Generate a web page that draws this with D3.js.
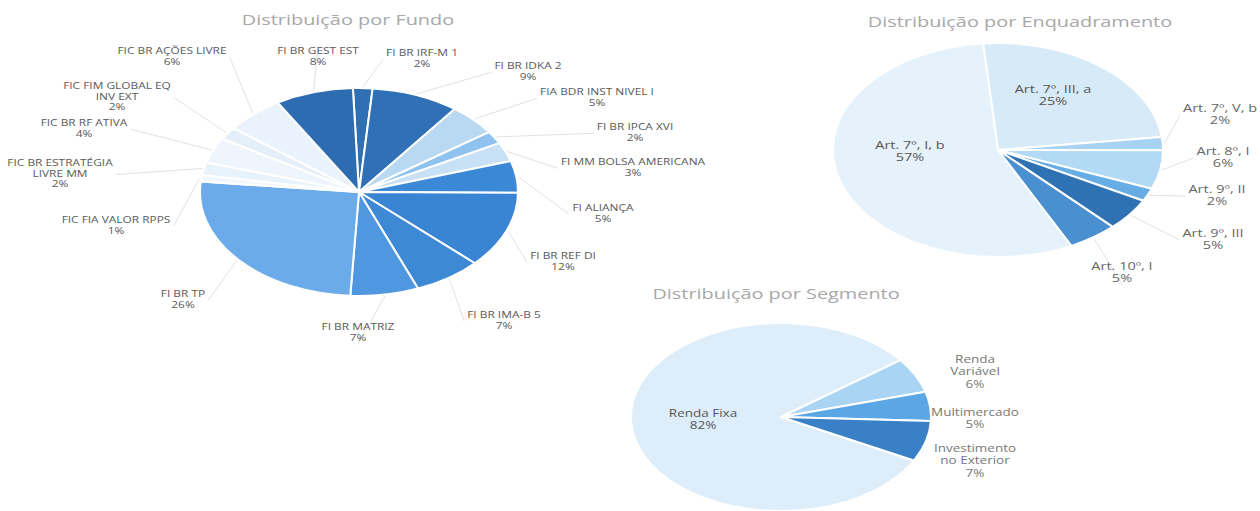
<!DOCTYPE html>
<html><head><meta charset="utf-8">
<script src="https://cdn.jsdelivr.net/npm/d3@7"></script>
<style>
html,body{margin:0;padding:0;background:#fff;}
svg{display:block;font-family:"Open Sans","DejaVu Sans",sans-serif;}
</style></head>
<body>
<svg id="chart" width="1260" height="511"></svg>
<script>
// ---------- DATA ----------
const fundoCategories = ["FI BR IRF-M 1","FI BR IDKA 2","FIA BDR INST NIVEL I","FI BR IPCA XVI","FI MM BOLSA AMERICANA","FI ALIANÇA","FI BR REF DI","FI BR IMA-B 5","FI BR MATRIZ","FI BR TP","FIC FIA VALOR RPPS","FIC BR ESTRATÉGIA\nLIVRE MM","FIC BR RF ATIVA","FIC FIM GLOBAL EQ\nINV EXT","FIC BR AÇÕES LIVRE","FI BR GEST EST"];
const fundoValues = [2,9,5,2,3,5,12,7,7,26,1,2,4,2,6,8];

const enqCategories = ["Art. 7º, III, a","Art. 7º, V, b","Art. 8º, I","Art. 9º, II","Art. 9º, III","Art. 10º, I","Art. 7º, I, b"];
const enqValues = [25,2,6,2,5,5,57];

const segCategories = ["Renda Fixa","Renda\nVariável","Multimercado","Investimento\nno Exterior"];
const segValues = [82,6,5,7];

const titles = ["Distribuição por Fundo","Distribuição por Enquadramento","Distribuição por Segmento"];

// ---------- STYLES / LAYOUT ----------
const fundoColors = ["#2f6fb4","#2f70b6","#b9d8f2","#8fc2ee","#c8e1f6","#3b88d7","#3985d3","#3d89d6","#4f98e0","#6cabea","#f1f7fc","#e8f2fb","#eef5fc","#e4eff9","#eaf3fb","#2d6cb0"];
const enqColors = ["#d6eaf8","#a8d2f2","#b3daf5","#66ade6","#2f72b3","#4a8fd0","#e5f2fb"];
const segColors = ["#ddeefa","#a9d4f3","#5ba7e5","#3a80c6"];

const fundoLabelPos = [[422,54],[528,67],[597,93],[635,128],[633,163],[603,209],[563,257],[504,316],[358,328],[183,295],[116,221],[60,164],[84,124],[117,87],[172,52],[318,52]];
const enqLabelPos = [[1053,90,"in"],[1220,109],[1223,152],[1217,190],[1213,234],[1122,267],[910,146,"in"]];
const segLabelPos = [[703,414,"in"],[975,360],[975,413],[975,449]];

const svg = d3.select("#chart");
const deg = Math.PI/180;

function stretchedText(g, x, y, lines, opts){
  const t = g.append("g").attr("transform",`translate(${x},${y}) scale(${opts.sx},1)`);
  lines.forEach((ln,i)=>{
    t.append("text").attr("x",0).attr("y",i*opts.lh)
      .attr("text-anchor","middle").attr("dominant-baseline","middle")
      .attr("font-size",opts.fs).attr("fill",opts.fill)
      .attr("font-weight",opts.fw||400)
      .text(ln);
  });
  return t;
}

function drawPie(cfg){
  const g = svg.append("g");
  const pie = d3.pie().sort(null).value(d=>d.v)
    .startAngle(cfg.start*deg).endAngle(cfg.start*deg+2*Math.PI);
  const data = cfg.cats.map((c,i)=>({c, v:cfg.vals[i], col:cfg.colors[i], pos:cfg.pos[i]}));
  const arcs = pie(data);
  const arc = d3.arc().innerRadius(0).outerRadius(cfg.rx);
  const pg = g.append("g").attr("transform",`translate(${cfg.cx},${cfg.cy}) scale(1,${cfg.ry/cfg.rx})`);
  pg.selectAll("path").data(arcs).join("path")
    .attr("d",arc).attr("fill",d=>d.data.col)
    .attr("stroke","#fff").attr("stroke-width",cfg.sw)
    .attr("vector-effect","non-scaling-stroke").attr("stroke-linejoin","round");

  const lg = g.append("g");
  const leaders = g.insert("g",":first-child");
  arcs.forEach(a=>{
    const p = a.data.pos; if(!p) return;
    const lines = a.data.c.split("\n").concat([a.data.v+"%"]);
    const inside = p[2]==="in";
    const t = stretchedText(lg,p[0],p[1],lines,{sx:cfg.sx,lh:cfg.lh,fs:cfg.fs,fill:inside?cfg.inFill:cfg.fill,fw:cfg.fw});
    if(!inside && cfg.leaders){
      const m = (a.startAngle+a.endAngle)/2;
      const ex = cfg.cx + cfg.rx*1.01*Math.sin(m), ey = cfg.cy - cfg.ry*1.01*Math.cos(m);
      const bb = t.node().getBBox();
      const hw = bb.width*cfg.sx/2;
      const ymid = p[1] + (lines.length-1)*cfg.lh/2;
      let lx, ly;
      if(Math.abs(p[0]-ex) < hw){ lx = p[0]; ly = ey < p[1] ? p[1]+ (lines.length-1)*cfg.lh + 6 : p[1]-6; }
      else { lx = p[0] < ex ? p[0]+hw+3 : p[0]-hw-3; ly = ymid; }
      leaders.append("path")
        .attr("d",`M${ex},${ey}L${lx},${ly}`)
        .attr("fill","none").attr("stroke","#e2e2e2").attr("stroke-width",1);
    }
  });
}

// titles
const titlePos = [[348,21],[1020,23],[776,295]];
titles.forEach((t,i)=>{
  stretchedText(svg,titlePos[i][0],titlePos[i][1],[t],{sx:1.42,lh:0,fs:14,fill:"#a8a8a8"});
});

drawPie({cats:fundoCategories, vals:fundoValues, colors:fundoColors, pos:fundoLabelPos,
  cx:359, cy:192, rx:159, ry:104, start:-2.2, sw:2, sx:1.4, lh:10.5, fs:8.5, fill:"#5a5a5a", inFill:"#5a5a5a", leaders:true});

drawPie({cats:enqCategories, vals:enqValues, colors:enqColors, pos:enqLabelPos,
  cx:998, cy:150, rx:165, ry:107, start:-5.2, sw:2, sx:1.45, lh:12, fs:10, fill:"#666", inFill:"#555", leaders:true});

drawPie({cats:segCategories, vals:segValues, colors:segColors, pos:segLabelPos,
  cx:781, cy:417, rx:150, ry:94, start:52.8-82*3.6, sw:2, sx:1.35, lh:12.5, fs:10, fill:"#777", inFill:"#555", leaders:false});
</script>
</body></html>
